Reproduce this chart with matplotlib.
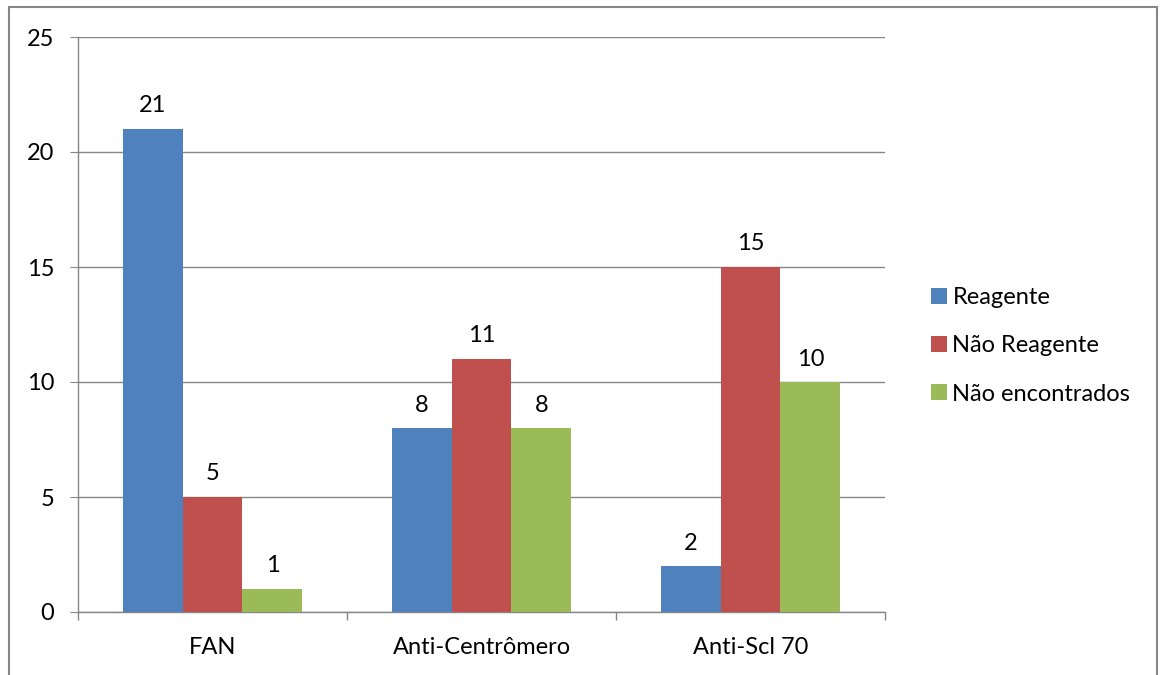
import matplotlib
matplotlib.use('Agg')
import matplotlib.pyplot as plt
import numpy as np

categories = ["FAN", "Anti-Centrômero", "Anti-Scl 70"]
series_names = ["Reagente", "Não Reagente", "Não encontrados"]
reagente = [21, 8, 2]
nao_reagente = [5, 11, 15]
nao_encontrados = [1, 8, 10]
colors = ["#4F81BD", "#C0504D", "#9BBB59"]

plt.rcParams['font.family'] = ['Lato', 'DejaVu Sans']
fs = 17

fig = plt.figure(figsize=(11.61, 6.75), dpi=100)
ax = fig.add_axes([78 / 1161, 1 - 612 / 675, (885 - 78) / 1161, (612 - 37) / 675])

# outer chart frame
fig.patches.append(plt.Rectangle((9 / 1161, -0.05), (1157 - 9) / 1161, 1 - 7 / 675 + 0.05,
                                 transform=fig.transFigure, fill=False,
                                 edgecolor="#868686", linewidth=1.5))

x = np.arange(len(categories))
w = 0.223
for i, (vals, name) in enumerate(zip([reagente, nao_reagente, nao_encontrados], series_names)):
    bars = ax.bar(x + (i - 1) * w, vals, width=w, color=colors[i], label=name, zorder=3)
    for b, v in zip(bars, vals):
        ax.annotate(str(v), (b.get_x() + b.get_width() / 2, v), xytext=(0, 9),
                    textcoords="offset points", ha="center", va="bottom", fontsize=fs)

ax.set_xlim(-0.5, len(categories) - 0.5)
ax.set_ylim(0, 25)
ax.set_yticks(range(0, 26, 5))
ax.yaxis.grid(True, color="#868686", linewidth=1)
ax.set_axisbelow(True)

ax.set_xticks(x)
ax.set_xticklabels(categories, fontsize=fs)
ax.tick_params(axis="x", length=0, pad=18)
ax.set_xticks(np.arange(-0.5, len(categories)), minor=True)
ax.tick_params(axis="x", which="minor", length=6, color="#868686", width=1)
ax.tick_params(axis="y", length=6, color="#868686", labelsize=fs, pad=11)

for s in ["top", "right"]:
    ax.spines[s].set_visible(False)
for s in ["left", "bottom"]:
    ax.spines[s].set_color("#868686")
    ax.spines[s].set_linewidth(1)

ax.legend(loc="center left", bbox_to_anchor=(910 / 1161, 1 - 346 / 675),
          bbox_transform=fig.transFigure, frameon=False, fontsize=fs,
          handlelength=0.65, handleheight=0.65, handletextpad=0.25, labelspacing=1.15)

fig.savefig("out.png", dpi=100)
